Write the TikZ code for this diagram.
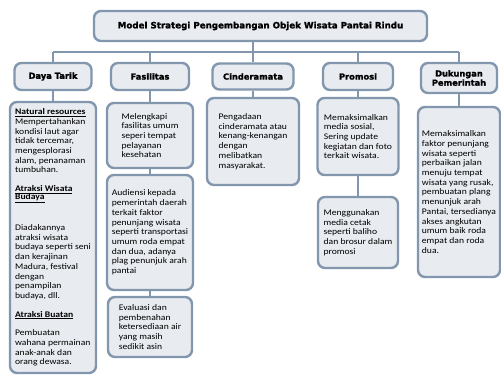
\documentclass[tikz,border=0pt]{standalone}
\usepackage{fontspec}
\usepackage{tikz}
\newfontfamily\bodyfont[FakeStretch=1.12]{Carlito}
\newfontfamily\headfont[FakeBold=1.6]{DejaVu Sans Bold}
\definecolor{boxline}{HTML}{8296AE}
\definecolor{boxfill}{HTML}{E8EBF0}

\begin{document}
\begin{tikzpicture}[x=1pt, y=-1pt,
    box/.style={draw=boxline, fill=boxfill, line width=2.4pt, rounded corners=7pt, inner sep=2pt},
    headbox/.style={box, font=\headfont\fontsize{8.3}{9.2}\selectfont, align=center},
    textbox/.style={box, font=\bodyfont\fontsize{8.6}{9.7}\selectfont, align=left},
    link/.style={draw=boxline, line width=2.4pt}]
            \useasboundingbox (0,0) rectangle (501,380);

            % judul dan kepala kolom
            \node[box, font=\headfont\fontsize{8.7}{9.5}\selectfont, minimum width=333pt, minimum height=30pt] (title) at (260.5, 26) {Model Strategi Pengembangan Objek Wisata Pantai Rindu};
            \node[headbox, minimum width=77pt, minimum height=27pt] (daya) at (53, 76.5) {Daya Tarik};
            \node[headbox, minimum width=78pt, minimum height=27pt] (fas) at (150, 76.5) {Fasilitas};
            \node[headbox, minimum width=81pt, minimum height=26pt] (cind) at (253, 76.5) {Cinderamata};
            \node[headbox, minimum width=70pt, minimum height=27pt] (prom) at (358, 76.5) {Promosi};
            \node[headbox, minimum width=76pt, minimum height=30pt] (duk) at (459, 78) {Dukungan\\Pemerintah};

            % isi kolom
            \node[textbox, minimum width=86pt, minimum height=271pt] (daya1) at (53, 237.5) {%
                \underline{\textbf{Natural resources}}\\
                Mempertahankan\\ kondisi laut agar\\ tidak tercemar,\\ mengesplorasi\\ alam, penanaman\\ tumbuhan.\\[9pt]
                \underline{\textbf{Atraksi Wisata}}\\[-1.4pt]
                \underline{\textbf{Budaya}}\\[21pt]
                Diadakannya\\ atraksi wisata\\ budaya seperti seni\\ dan kerajinan\\ Madura, festival\\ dengan\\ penampilan\\ budaya, dll.\\[9pt]
                \underline{\textbf{Atraksi Buatan}}\\[9pt]
                Pembuatan\\ wahana permainan\\ anak-anak dan\\ orang dewasa.};
            \node[textbox, minimum width=86pt, minimum height=65pt] (fas1) at (150, 135.5) {Melengkapi\\ fasilitas umum\\ seperi tempat\\ pelayanan\\ kesehatan};
            \node[textbox, minimum width=86pt, minimum height=115pt] (fas2) at (150, 232.5) {Audiensi kepada\\ pemerintah daerah\\ terkait faktor\\ penunjang wisata\\ seperti transportasi\\ umum roda empat\\ dan dua, adanya\\ plag penunjuk arah\\ pantai};
            \node[textbox, minimum width=84pt, minimum height=60pt] (fas3) at (150, 327) {Evaluasi dan\\ pembenahan\\ ketersediaan air\\ yang masih\\ sedikit asin};
            \node[textbox, minimum width=92pt, minimum height=87pt] (cind1) at (253, 141.5) {Pengadaan\\ cinderamata atau\\ kenang-kenangan\\ dengan\\ melibatkan\\ masyarakat.};
            \node[textbox, minimum width=81pt, minimum height=77pt] (prom1) at (358, 136.5) {Memaksimalkan\\ media sosial,\\ Sering update\\ kegiatan dan foto\\ terkait wisata.};
            \node[textbox, minimum width=80pt, minimum height=71pt] (prom2) at (358, 232.5) {Menggunakan\\ media cetak\\ seperti baliho\\ dan brosur dalam\\ promosi};
            \node[textbox, minimum width=82pt, minimum height=170pt] (duk1) at (459, 192) {Memaksimalkan\\ faktor penunjang\\ wisata seperti\\ perbaikan jalan\\ menuju tempat\\ wisata yang rusak,\\ pembuatan plang\\ menunjuk arah\\ Pantai, tersedianya\\ akses angkutan\\ umum baik roda\\ empat dan roda\\ dua.};

            % garis penghubung
            \coordinate (busL) at (53, 52);
            \coordinate (busR) at (459, 52);
            \draw[link] (title.south -| cind.north) -- (cind.north);
            \draw[link] (busL) -- (busR);
            \draw[link] (busL) -- (daya.north);
            \draw[link] (fas.north |- busL) -- (fas.north);
            \draw[link] (prom.north |- busL) -- (prom.north);
            \draw[link] (busR) -- (duk.north);
            \draw[link] (daya) -- (daya1);
            \draw[link] (fas) -- (fas1);
            \draw[link] (fas1) -- (fas2);
            \draw[link] (fas2) -- (fas3);
            \draw[link] (cind) -- (cind1);
            \draw[link] (prom) -- (prom1);
            \draw[link] (prom1) -- (prom2);
            \draw[link] (duk) -- (duk1);
        \end{tikzpicture}
\end{document}
